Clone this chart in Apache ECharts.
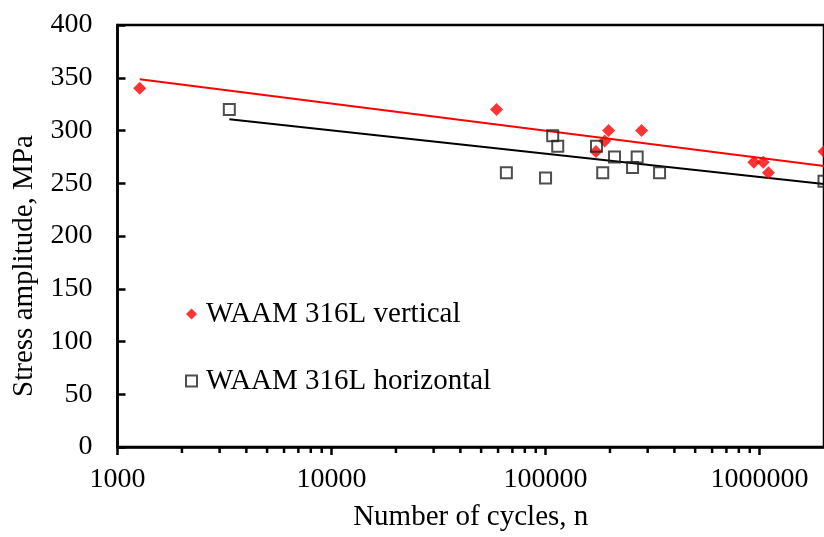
<!DOCTYPE html>
<html>
<head>
<meta charset="utf-8">
<script src="https://cdn.jsdelivr.net/npm/echarts@6/dist/echarts.min.js"></script>
<style>
  html, body { margin: 0; padding: 0; background: #fff; }
  #chart { width: 824px; height: 537px; }
</style>
</head>
<body>
<div id="chart"></div>
<script>
// Fatigue test results: cycles to failure vs stress amplitude
const verticalCycles = [1270, 59000, 172000, 189000, 197000, 281000, 940000, 1040000, 1100000, 2000000];
const verticalStress = [340, 320, 280, 290, 300, 300, 270, 270, 260, 280];

const horizontalCycles = [3330, 65600, 100000, 108000, 114000, 173000, 185000, 210000, 255000, 268000, 341000, 2000000];
const horizontalStress = [320, 260, 255, 295, 285, 285, 260, 275, 265, 275, 260, 252];

// Trend line end points (cycles, stress)
const verticalTrendCycles = [1270, 2000000];
const verticalTrendStress = [348.6, 266.4];
const horizontalTrendCycles = [3330, 2000000];
const horizontalTrendStress = [310.6, 249.3];

// Minor tick positions on the logarithmic cycles axis
const minorTickCycles = [
  2000, 3000, 4000, 5000, 6000, 7000, 8000, 9000,
  20000, 30000, 40000, 50000, 60000, 70000, 80000, 90000,
  200000, 300000, 400000, 500000, 600000, 700000, 800000, 900000
];

const seriesNames = ['WAAM 316L vertical', 'WAAM 316L horizontal'];
const yTitle = 'Stress amplitude, MPa';
const xTitle = 'Number of cycles, n';

const FONT = "'Liberation Serif', 'Times New Roman', serif";

const pairs = (xs, ys) => xs.map((x, i) => [x, ys[i]]);

const chart = echarts.init(document.getElementById('chart'));

chart.setOption({
  animation: false,
  backgroundColor: '#fff',
  grid: {
    left: 117.5,
    top: 25,
    width: 711.5,
    height: 428,
    show: true,
    borderColor: '#000',
    borderWidth: 2.5,
    backgroundColor: 'transparent'
  },
  legend: {
    data: seriesNames,
    orient: 'vertical',
    left: 180,
    top: 294,
    itemWidth: 11,
    itemHeight: 11,
    itemGap: 37,
    textStyle: {
      fontFamily: FONT,
      fontSize: 29,
      color: '#000',
      lineHeight: 30,
      padding: [0, 0, 0, 4]
    }
  },
  xAxis: {
    type: 'log',
    logBase: 10,
    min: 1000,
    max: 2000000,
    name: xTitle,
    nameLocation: 'middle',
    nameGap: 56,
    nameTextStyle: { fontFamily: FONT, fontSize: 29, color: '#000' },
    axisLine: { show: true, lineStyle: { color: '#000', width: 2.5 } },
    axisTick: { show: true, inside: false, length: 8, lineStyle: { color: '#000', width: 2.5 } },
    axisLabel: {
      show: true,
      margin: 19,
      showMaxLabel: false,
      fontFamily: FONT,
      fontSize: 28,
      color: '#000',
      formatter: v => String(Math.round(v))
    },
    splitLine: { show: false },
    minorTick: { show: false }
  },
  yAxis: {
    type: 'value',
    min: 0,
    max: 400,
    interval: 50,
    axisLine: { show: true, lineStyle: { color: '#000', width: 2.5 } },
    axisTick: { show: true, inside: true, length: 8, lineStyle: { color: '#000', width: 2.5 } },
    axisLabel: {
      margin: 25,
      fontFamily: FONT,
      fontSize: 28,
      color: '#000'
    },
    splitLine: { show: false }
  },
  graphic: [{
    type: 'text',
    x: 24,
    y: 266,
    rotation: Math.PI / 2,
    style: {
      text: yTitle,
      font: "29px 'Liberation Serif', 'Times New Roman', serif",
      fill: '#000',
      textAlign: 'center',
      textVerticalAlign: 'middle'
    }
  }],
  series: [
    {
      name: seriesNames[0],
      type: 'scatter',
      symbol: 'diamond',
      symbolSize: 13,
      itemStyle: { color: '#ff0000' },
      data: pairs(verticalCycles, verticalStress),
      z: 3
    },
    {
      name: seriesNames[1],
      type: 'scatter',
      symbol: 'rect',
      symbolSize: 11,
      itemStyle: { color: 'rgba(255,255,255,0)', borderColor: '#222', borderWidth: 2 },
      data: pairs(horizontalCycles, horizontalStress),
      z: 4
    },
    {
      name: 'vertical trend',
      type: 'line',
      showSymbol: false,
      symbol: 'none',
      lineStyle: { color: '#ff0000', width: 2 },
      data: pairs(verticalTrendCycles, verticalTrendStress),
      z: 2
    },
    {
      name: 'horizontal trend',
      type: 'line',
      showSymbol: false,
      symbol: 'none',
      lineStyle: { color: '#000', width: 2 },
      data: pairs(horizontalTrendCycles, horizontalTrendStress),
      z: 2
    },
    {
      name: 'minor ticks',
      type: 'custom',
      silent: true,
      clip: false,
      data: minorTickCycles.map(c => [c, 0]),
      renderItem: (params, api) => {
        const p = api.coord([api.value(0), 0]);
        return {
          type: 'line',
          shape: { x1: p[0], y1: p[1], x2: p[0], y2: p[1] + 6 },
          style: { stroke: '#000', lineWidth: 2.5 }
        };
      },
      z: 5
    }
  ]
});
</script>
</body>
</html>
